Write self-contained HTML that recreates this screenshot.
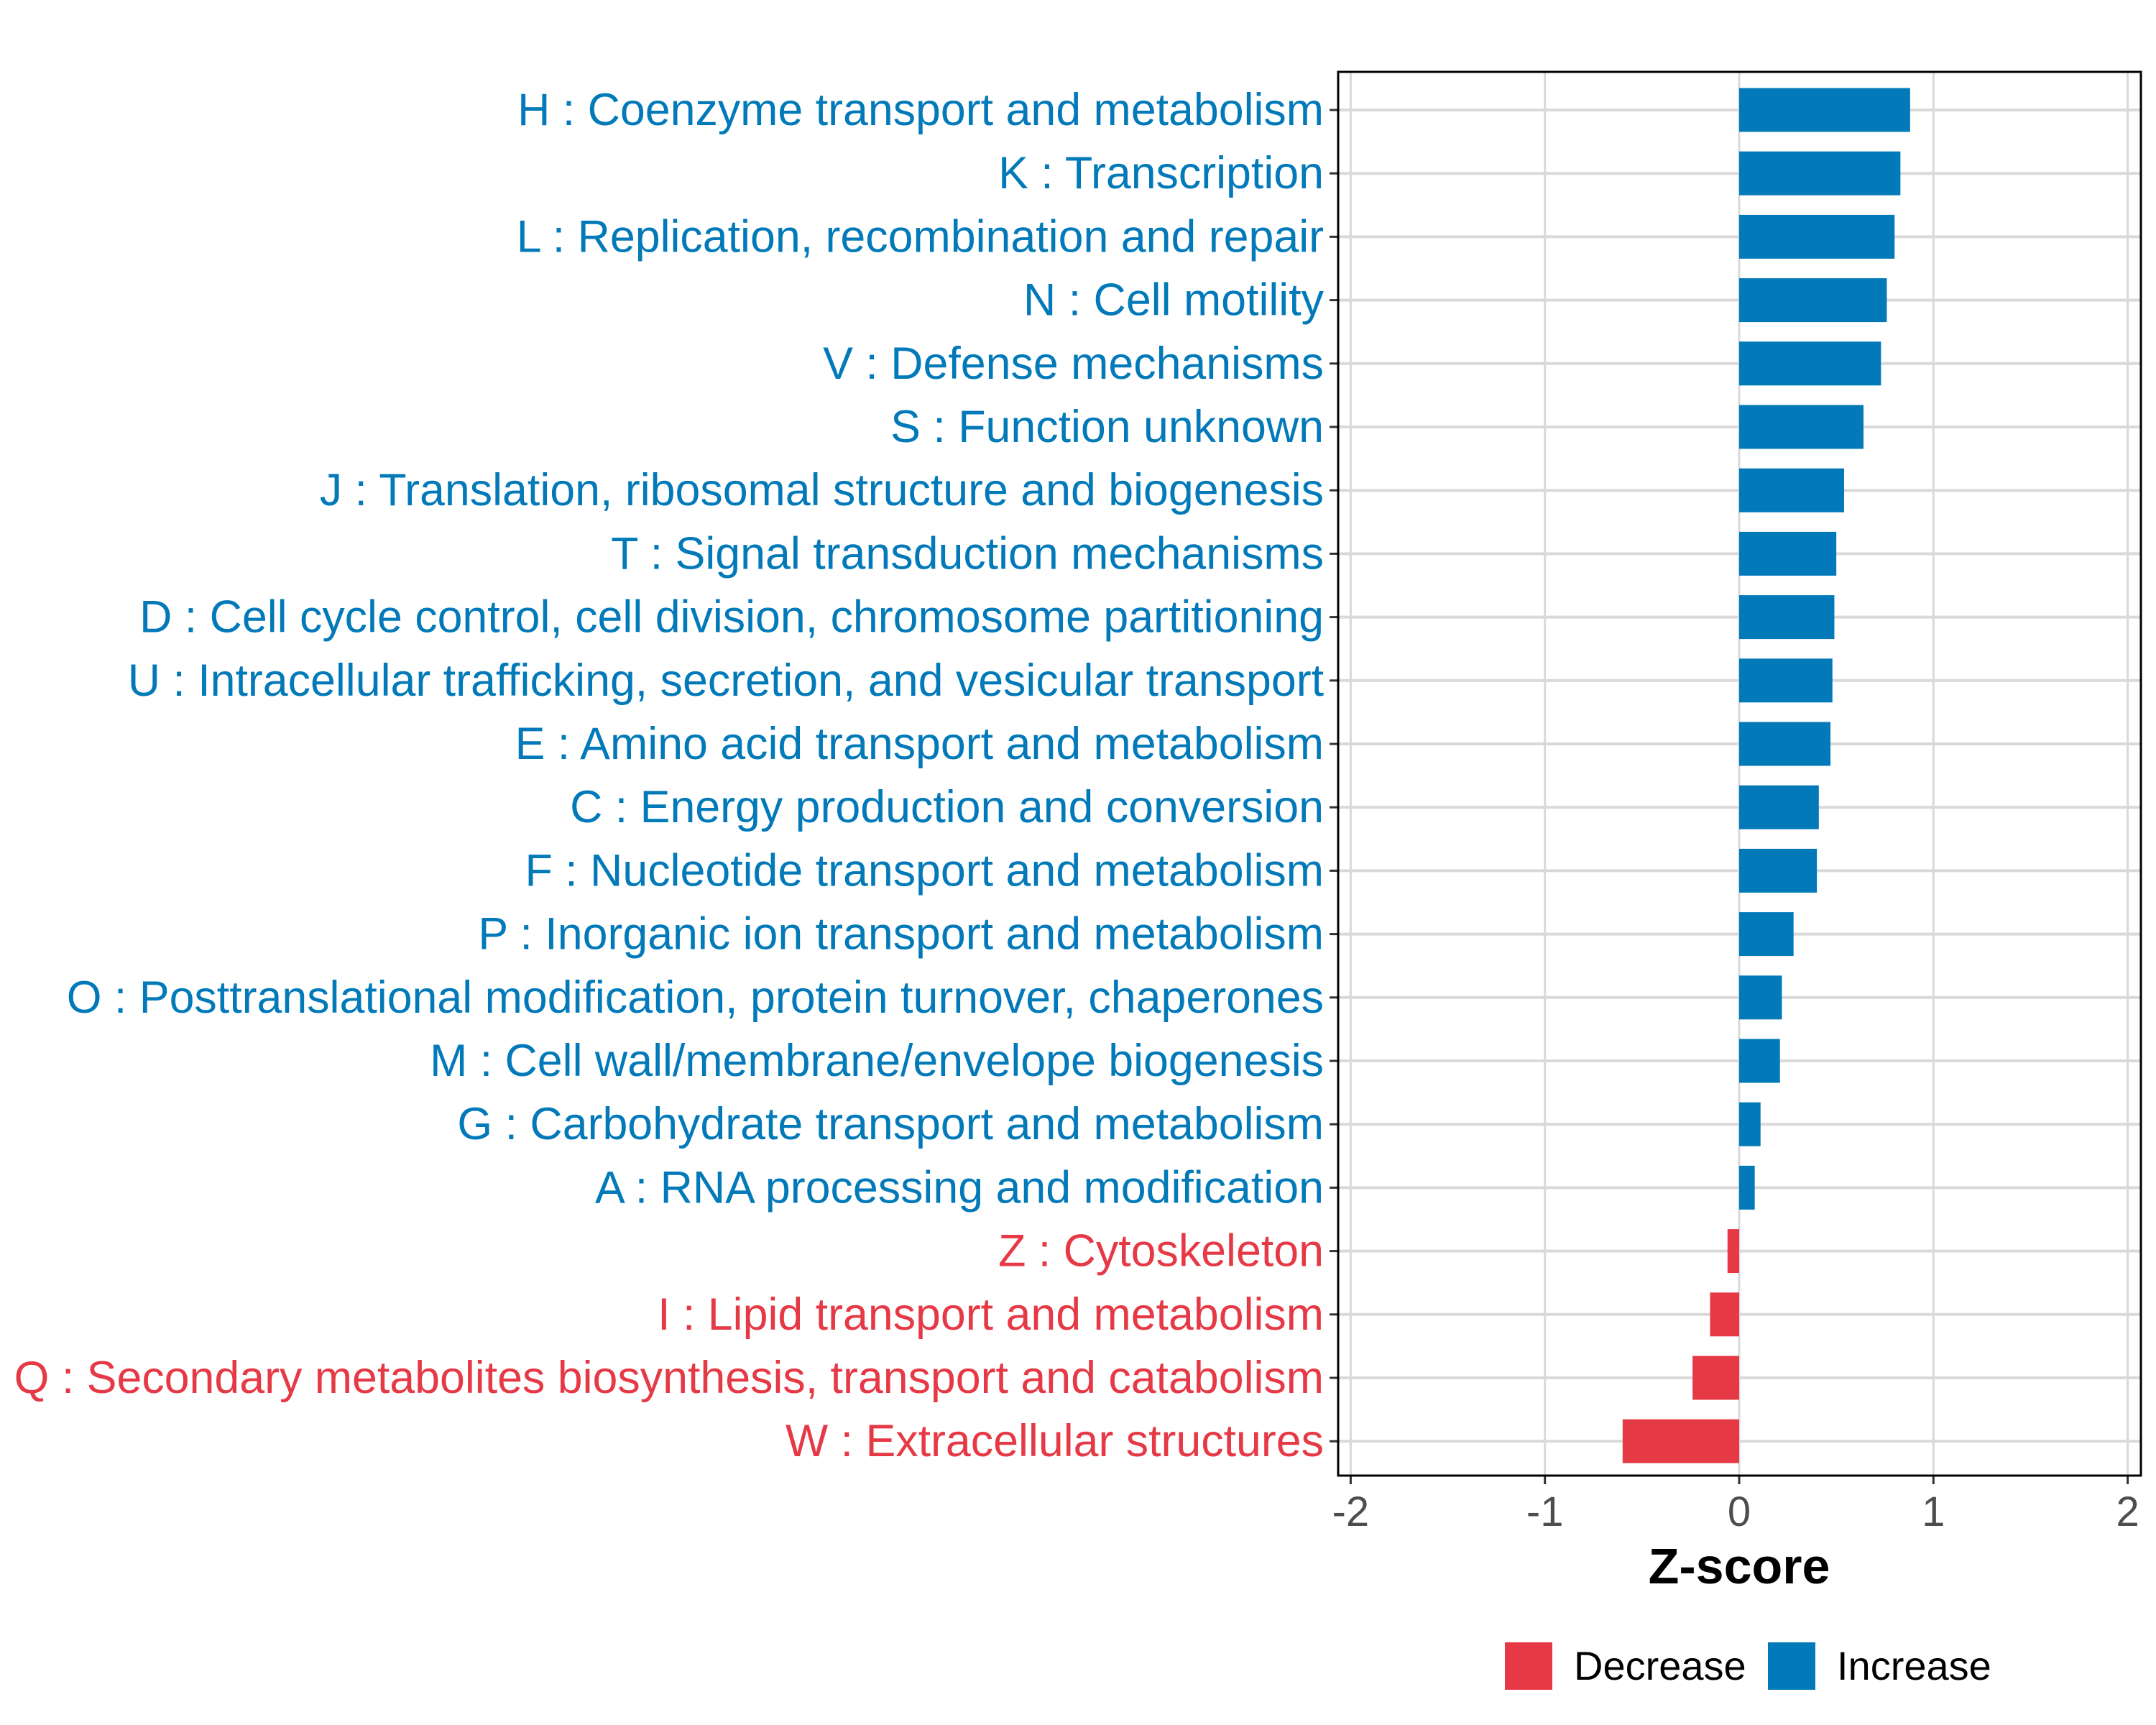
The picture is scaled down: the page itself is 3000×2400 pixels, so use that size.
<!DOCTYPE html>
<html><head><meta charset="utf-8"><style>
html,body{margin:0;padding:0;background:#fff}
svg{display:block}
text{font-family:"Liberation Sans",Arial,sans-serif}
</style></head><body>
<svg id="chart" width="3000" height="2400" viewBox="0 0 3000 2400" xmlns="http://www.w3.org/2000/svg">
<rect x="0" y="0" width="3000" height="2400" fill="#fff"/>
<g id="grid"></g>
<g id="bars"></g>
<g id="ylabels"></g>
<g id="xaxis"></g>
<rect x="1862" y="100" width="1117" height="1953" fill="none" stroke="#000" stroke-width="3"/>
<text x="2420" y="2203" text-anchor="middle" font-size="70" font-weight="bold" fill="#000">Z-score</text>
<g>
<rect x="2094" y="2285" width="66" height="66" fill="#E63946"/>
<text x="2190" y="2337" font-size="56" fill="#000">Decrease</text>
<rect x="2460" y="2285" width="66" height="66" fill="#0279B8"/>
<text x="2556" y="2337" font-size="56" fill="#000">Increase</text>
</g>
</svg>
<script>
const categories = [
"H : Coenzyme transport and metabolism",
"K : Transcription",
"L : Replication, recombination and repair",
"N : Cell motility",
"V : Defense mechanisms",
"S : Function unknown",
"J : Translation, ribosomal structure and biogenesis",
"T : Signal transduction mechanisms",
"D : Cell cycle control, cell division, chromosome partitioning",
"U : Intracellular trafficking, secretion, and vesicular transport",
"E : Amino acid transport and metabolism",
"C : Energy production and conversion",
"F : Nucleotide transport and metabolism",
"P : Inorganic ion transport and metabolism",
"O : Posttranslational modification, protein turnover, chaperones",
"M : Cell wall/membrane/envelope biogenesis",
"G : Carbohydrate transport and metabolism",
"A : RNA processing and modification",
"Z : Cytoskeleton",
"I : Lipid transport and metabolism",
"Q : Secondary metabolites biosynthesis, transport and catabolism",
"W : Extracellular structures"
];
const zscores = [0.88,0.83,0.80,0.76,0.73,0.64,0.54,0.50,0.49,0.48,0.47,0.41,0.40,0.28,0.22,0.21,0.11,0.08,-0.06,-0.15,-0.24,-0.60];
const xTicks = [-2,-1,0,1,2];
const xTickLabels = ["-2","-1","0","1","2"];

const NS = "http://www.w3.org/2000/svg";
const X0 = 2420, UNIT = 270.3, PL = 1862, PR = 2979, PT = 100, PB = 2053;
const ROW0 = 153, STEP = 88.2, BARH = 61;
function xs(v){ return X0 + v*UNIT; }
function ys(i){ return ROW0 + i*STEP; }
function mk(tag, attrs, parent){
  const e = document.createElementNS(NS, tag);
  for (const k in attrs) e.setAttribute(k, attrs[k]);
  parent.appendChild(e); return e;
}
const grid = document.getElementById('grid');
const bars = document.getElementById('bars');
const yl = document.getElementById('ylabels');
const xa = document.getElementById('xaxis');

xTicks.forEach((t, i) => {
  const g = mk('line', {x1: xs(t), x2: xs(t), y1: PT, y2: PB, stroke: '#d9d9d9', 'stroke-width': 3}, grid);
  
  
  const tk = mk('line', {x1: xs(t), x2: xs(t), y1: PB, y2: PB + 12, stroke: '#333', 'stroke-width': 3}, xa);
  
  
  const tl = mk('text', {x: xs(t), y: PB + 70, 'text-anchor': 'middle', 'font-size': 58, fill: '#4d4d4d'}, xa);
  tl.textContent = xTickLabels[i];
  
  
});

categories.forEach((c, i) => {
  const y = ys(i), v = zscores[i];
  const col = v >= 0 ? '#0279B8' : '#E63946';
  const gl = mk('line', {x1: PL, x2: PR, y1: y, y2: y, stroke: '#d9d9d9', 'stroke-width': 4}, grid);
  
  
  const x1 = Math.min(xs(0), xs(v)), w = Math.abs(xs(v) - xs(0));
  const b = mk('rect', {x: x1, y: y - BARH/2, width: w, height: BARH, fill: col}, bars);
  
  
  const tk = mk('line', {x1: PL - 12, x2: PL, y1: y, y2: y, stroke: '#333', 'stroke-width': 3}, yl);
  
  
  const t = mk('text', {x: 1842, y: y + 21, 'text-anchor': 'end', 'font-size': 62.7, fill: col}, yl);
  t.textContent = c;
  
  
});
</script>
</body></html>
